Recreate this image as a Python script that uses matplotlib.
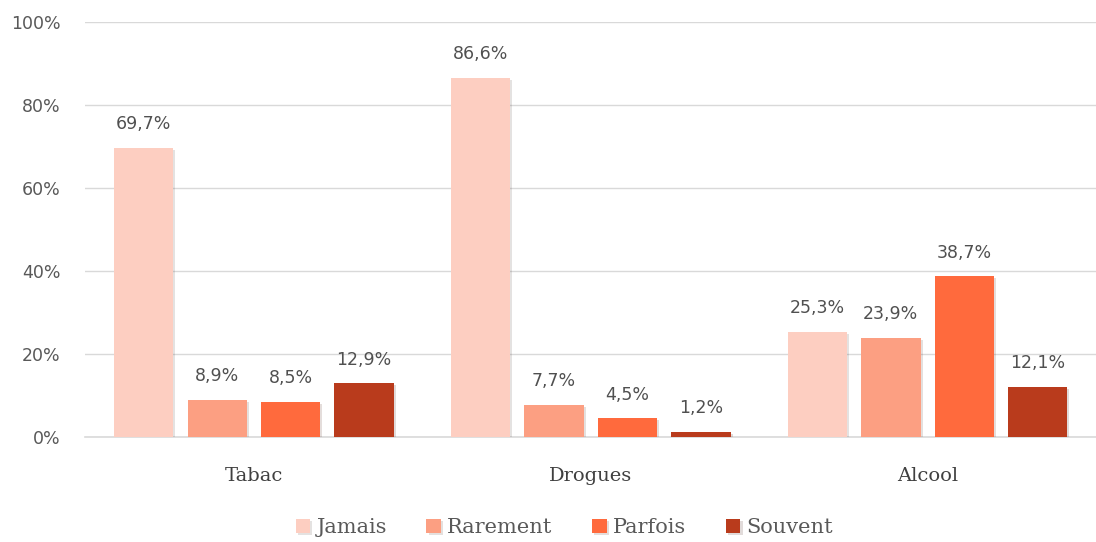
import matplotlib.pyplot as plt
import matplotlib.patheffects as pe
import numpy as np

# data
categories = ['Tabac', 'Drogues', 'Alcool']
series = ['Jamais', 'Rarement', 'Parfois', 'Souvent']
jamais = [69.7, 86.6, 25.3]
rarement = [8.9, 7.7, 23.9]
parfois = [8.5, 4.5, 38.7]
souvent = [12.9, 1.2, 12.1]
values = [jamais, rarement, parfois, souvent]
colors = ['#FDCEC1', '#FC9F82', '#FF6A3D', '#B93B1C']

grey = '#595959'

fig = plt.figure(figsize=(10.96, 5.42), dpi=100)
ax = fig.add_axes([0.078, 0.194, 0.922, 0.765])

x = np.arange(len(categories))
width = 0.176
step = 0.218

for i, (name, vals, col) in enumerate(zip(series, values, colors)):
    pos = x + (i - 1.5) * step
    bars = ax.bar(pos, vals, width, color=col, label=name, zorder=3,
                  path_effects=[pe.SimplePatchShadow(offset=(1.5, -1.5), alpha=0.15),
                                pe.Normal()])
    for b, v in zip(bars, vals):
        ax.text(b.get_x() + b.get_width() / 2, v + 3.5,
                f'{v:.1f}%'.replace('.', ','), ha='center', va='bottom',
                fontsize=12.5, color='#505050')

ax.set_ylim(0, 100)
ax.set_xlim(-0.5, 2.5)
ax.set_yticks(np.arange(0, 101, 20))
ax.set_yticklabels([f'{t}%' for t in range(0, 101, 20)], fontsize=12.5, color=grey)
ax.set_xticks(x)
ax.set_xticklabels(categories, family='DejaVu Serif', fontsize=14, color='#404040')
ax.tick_params(axis='both', length=0)
ax.tick_params(axis='x', pad=22)
ax.tick_params(axis='y', pad=18)
ax.yaxis.grid(True, color='#d9d9d9', linewidth=1, zorder=0)
ax.axhline(0, color='#d9d9d9', linewidth=1.2, zorder=2, clip_on=False)
for s in ax.spines.values():
    s.set_visible(False)

leg = fig.legend(loc='center', bbox_to_anchor=(0.515, 0.026), ncol=4, frameon=False,
                 prop={'family': 'DejaVu Serif', 'size': 15}, handlelength=0.7,
                 handleheight=0.7, handletextpad=0.3, columnspacing=1.9)
for t in leg.get_texts():
    t.set_color(grey)

fig.savefig('out.png', dpi=100)
